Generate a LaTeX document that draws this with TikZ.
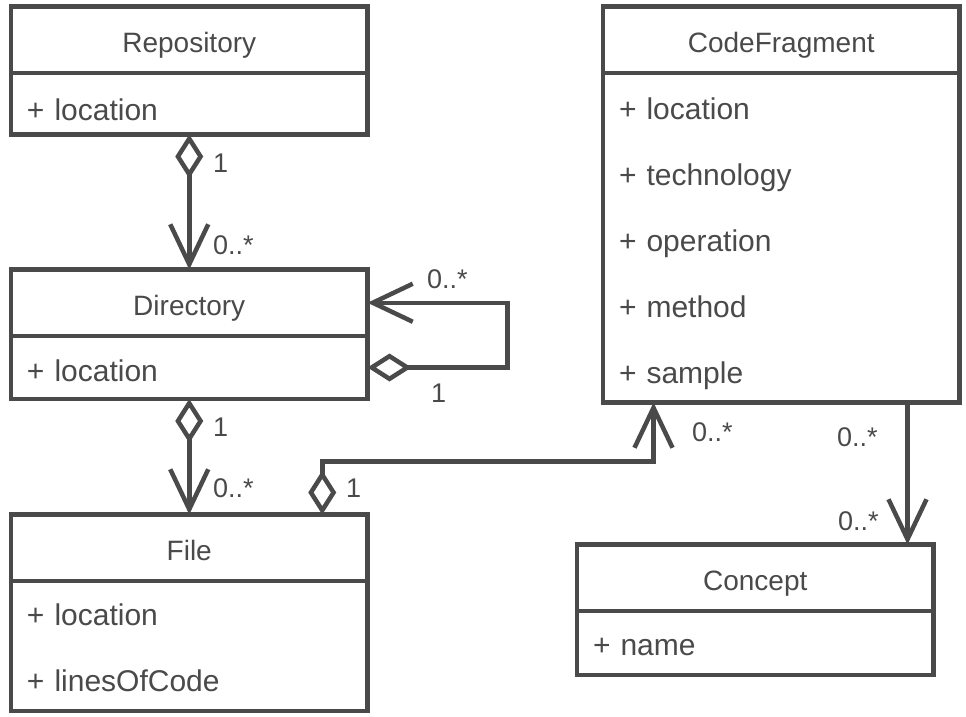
\documentclass[tikz,border=0pt]{standalone}
\usepackage{fontspec}
\setmainfont{Liberation Sans}
\usetikzlibrary{arrows.meta,positioning}
\definecolor{umlgray}{HTML}{4A4A4A}

\begin{document}
\begin{tikzpicture}[x=1pt,y=-1pt,
  every node/.style={font=\fontsize{28pt}{66pt}\selectfont,text=umlgray},
  classhead/.style={draw=umlgray,line width=4.5pt,fill=white,minimum width=356.5pt,minimum height=66.5pt,inner sep=0pt,outer sep=0pt,text height=24.5pt,text depth=0pt},
  classbody/.style={draw=umlgray,line width=4.5pt,fill=white,font=\fontsize{30pt}{66pt}\selectfont,text width=324.5pt,inner xsep=16pt,inner ysep=0pt,outer sep=0pt,align=left,text height=24pt,text depth=0pt},
  aggr/.style={draw=umlgray,line width=4.5pt,{Diamond[open,fill=white,length=44pt,width=28pt]}-{Straight Barb[length=40pt,width=38pt]}},
  navi/.style={draw=umlgray,line width=4.5pt,-{Straight Barb[length=40pt,width=38pt]}},
  mult/.style={font=\fontsize{27pt}{30pt}\selectfont,inner sep=0pt,anchor=west}]
  \useasboundingbox (0,0) rectangle (966,716);

  % classes
  \node[classhead] (repo) at (189.25,39.75) {Repository};
  \node[classbody,minimum height=61.5pt,text height=34pt,below=0pt of repo] (repoattr) {+ location};
  \node[classhead] (dir) at (189.25,302.75) {Directory};
  \node[classbody,minimum height=63pt,text height=28pt,below=0pt of dir] (dirattr) {+ location};
  \node[classhead] (file) at (189.25,547.75) {File};
  \node[classbody,minimum height=130pt,text depth=66pt,below=0pt of file] (fileattr) {+ location\\+ linesOfCode};
  \node[classhead] (frag) at (781.25,39.75) {CodeFragment};
  \node[classbody,minimum height=329.5pt,text height=27pt,text depth=264pt,below=0pt of frag] (fragattr) {+ location\\+ technology\\+ operation\\+ method\\+ sample};
  \node[classhead] (concept) at (755.25,577.75) {Concept};
  \node[classbody,minimum height=64pt,below=0pt of concept] (conceptattr) {+ name};

  % associations
  \draw[aggr] (repoattr.south) -- (dir.north);
  \draw[aggr] (dirattr.east) -- ++(140,0) |- (dir.east);
  \draw[aggr] (dirattr.south) -- (file.north);
  \draw[aggr] ([xshift=133pt]file.north) -- ++(0,-53) -| ([xshift=-127.75pt]fragattr.south);
  \draw[navi] ([xshift=126.25pt]fragattr.south) -- ([xshift=126.25pt]fragattr.south |- concept.north);

  % multiplicities
  \node[mult] (m1) at (213,163) {1};
  \node[mult] (m2) at (213,245) {0..*};
  \node[mult] (m3) at (427,279) {0..*};
  \node[mult] (m4) at (431,393) {1};
  \node[mult] (m5) at (213,427) {1};
  \node[mult] (m6) at (213,488) {0..*};
  \node[mult] (m7) at (346,488) {1};
  \node[mult] (m8) at (692,432) {0..*};
  \node[mult] (m9) at (837,437) {0..*};
  \node[mult] (m10) at (838,521) {0..*};
\end{tikzpicture}
\end{document}
